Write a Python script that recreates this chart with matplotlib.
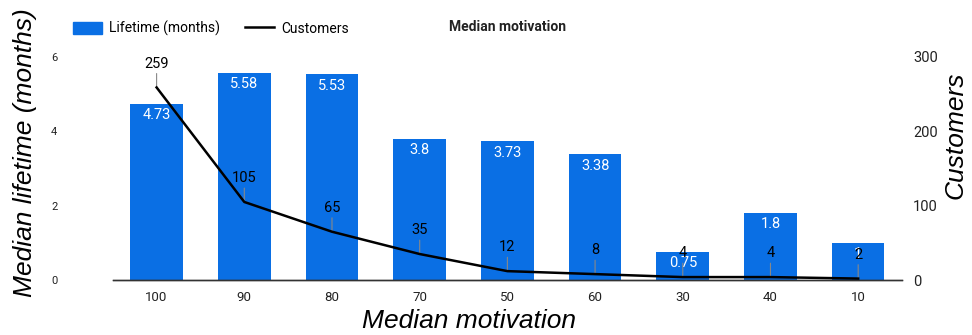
import matplotlib
matplotlib.use("Agg")
import matplotlib.pyplot as plt
from matplotlib.patches import Patch
from matplotlib.lines import Line2D

# median motivation buckets, in the order shown
categories = ["100", "90", "80", "70", "50", "60", "30", "40", "10"]
lifetime_months = [4.73, 5.58, 5.53, 3.8, 3.73, 3.38, 0.75, 1.8, 1]
customers = [259, 105, 65, 35, 12, 8, 4, 4, 2]

BAR = "#0a6fe4"
INK = "#222222"

plt.rcParams.update({"font.family": ["Roboto", "DejaVu Sans"]})

fig = plt.figure(figsize=(9.72, 3.35), dpi=100)
ax = fig.add_axes([0.116, 0.164, 0.812, 0.666])
ax2 = ax.twinx()

x = list(range(len(categories)))
ax.bar(x, lifetime_months, width=0.6, color=BAR, zorder=2)
for xi, v in zip(x, lifetime_months):
    ax.annotate(f"{v:g}", (xi, v), xytext=(0, -3), textcoords="offset points",
                ha="center", va="top", color="white", fontsize=10.5, zorder=3)

ax2.plot(x, customers, color="black", linewidth=1.8, zorder=4)
for xi, c in zip(x, customers):
    ax2.annotate(str(c), (xi, c), xytext=(0, 12), textcoords="offset points",
                 ha="center", va="bottom", color="black", fontsize=10.5,
                 arrowprops=dict(arrowstyle="-", color="#888888", lw=0.8,
                                 shrinkA=0, shrinkB=0))

ax.set_xlim(-0.5, len(categories) - 0.5)
ax.set_ylim(0, 6)
ax2.set_ylim(0, 300)
ax.set_yticks([0, 2, 4, 6])
ax2.set_yticks([0, 100, 200, 300])
ax.set_xticks(x)
ax.set_xticklabels(categories)

ax.tick_params(axis="y", length=0, labelsize=8, pad=40, colors=INK)
ax2.tick_params(axis="y", length=0, labelsize=10.5, pad=8, colors=INK)
ax.tick_params(axis="x", length=0, labelsize=9.5, pad=8, colors=INK)

for a in (ax, ax2):
    for s in ("top", "left", "right"):
        a.spines[s].set_visible(False)
    a.spines["bottom"].set_color("#333333")
    a.spines["bottom"].set_linewidth(1.0)
ax.set_zorder(ax2.get_zorder() - 1)
ax.patch.set_visible(False)

lab = dict(family=["Liberation Sans", "DejaVu Sans"], style="italic",
           fontsize=19, color="black")
ax.set_xlabel("Median motivation", **lab)
ax.set_ylabel("Median lifetime (months)", **lab)
ax2.set_ylabel("Customers", **lab)
ax.xaxis.set_label_coords(0.452, -0.13)
ax.yaxis.set_label_coords(-0.096, 0.57)
ax2.yaxis.set_label_coords(1.053, 0.65)

handles = [Patch(facecolor=BAR, edgecolor=BAR, label="Lifetime (months)"),
           Line2D([0], [0], color="black", linewidth=1.8, label="Customers")]
fig.legend(handles=handles, loc="center left", bbox_to_anchor=(0.062, 0.915),
           ncol=2, frameon=False, fontsize=10, handlelength=2.1, handleheight=0.95,
           columnspacing=1.8, handletextpad=0.5)
fig.text(0.522, 0.92, "Median motivation", ha="center", va="center",
         fontsize=10, fontweight="bold", color=INK)

fig.savefig("out.png", dpi=100)
